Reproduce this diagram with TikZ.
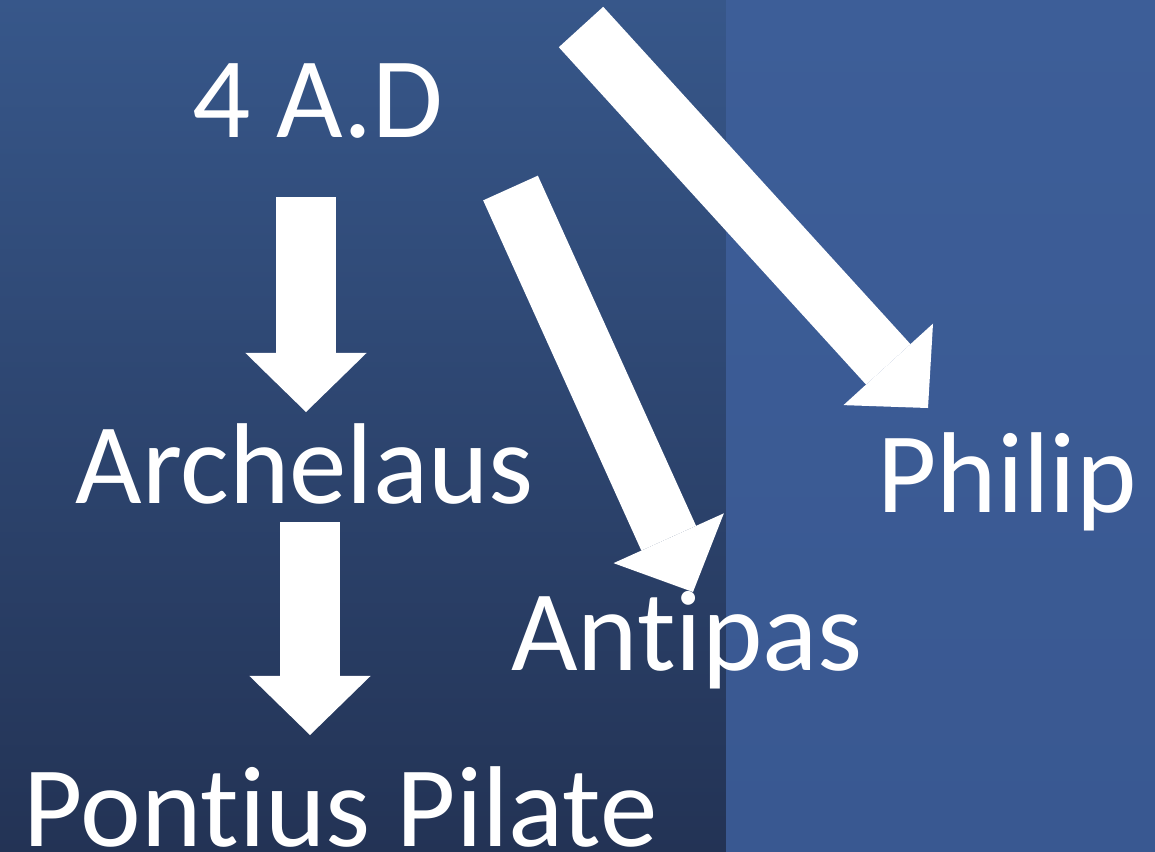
\documentclass[tikz,border=0pt]{standalone}
\usepackage{fontspec}
\setmainfont[Ligatures=NoCommon]{Carlito}
\usetikzlibrary{arrows.meta}
\definecolor{paneltop}{RGB}{55,87,138}
\definecolor{panelbot}{RGB}{35,51,85}
\definecolor{sidetop}{RGB}{61,94,152}
\definecolor{sidebot}{RGB}{57,88,145}
\tikzset{
  ruler/.style={text=white, inner sep=0pt, anchor=base, font=\fontsize{32.7}{39}\selectfont},
  bigarrow/.style={draw=white, line width=0.6cm, line cap=butt,
    -{Triangle[length=0.59cm, width=1.21cm, line width=0pt]}}
}
\begin{document}
\begin{tikzpicture}[x=0.01cm, y=-0.01cm]
            \useasboundingbox (0,0) rectangle (1155,851);
            \shade[top color=paneltop, bottom color=panelbot] (0,0) rectangle (726,851);
            \shade[top color=sidetop, bottom color=sidebot] (726,0) rectangle (1155,851);
            \node[ruler] (ad) at (318,137) {4 A.D};
            \node[ruler] (archelaus) at (304.5,503) {Archelaus};
            \node[ruler] (pilate) at (340.5,846) {Pontius Pilate};
            \node[ruler] (antipas) at (687,670) {Antipas};
            \node[ruler] (philip) at (1007,512) {Philip};
            \coordinate (ad-down) at (306,197);
            \coordinate (archelaus-top) at (306,412);
            \coordinate (archelaus-down) at (310,522);
            \coordinate (pilate-top) at (310,735);
            \coordinate (ad-antipas) at (510.5,188);
            \coordinate (antipas-top) at (693,592);
            \coordinate (ad-philip) at (581,27);
            \coordinate (philip-top) at (928,408);
            \draw[bigarrow] (ad-down)--(archelaus-top);
            \draw[bigarrow] (archelaus-down)--(pilate-top);
            \draw[bigarrow] (ad-antipas)--(antipas-top);
            \draw[bigarrow] (ad-philip)--(philip-top);
        \end{tikzpicture}
\end{document}
